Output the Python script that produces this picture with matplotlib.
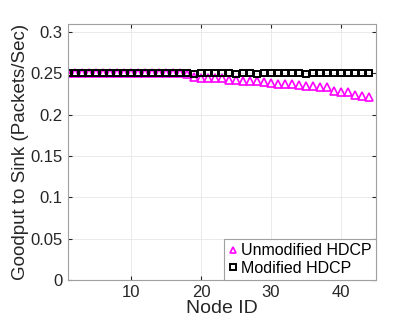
import numpy as np
import matplotlib
matplotlib.use('Agg')
import matplotlib.pyplot as plt

plt.rcParams['font.family'] = ['Liberation Sans', 'DejaVu Sans']

node_id = list(range(1, 45))
unmodified = [0.2505] * 17 + [
    0.249, 0.246, 0.245, 0.245, 0.245, 0.244,
    0.242, 0.242, 0.241, 0.241, 0.241, 0.240,
    0.238, 0.237, 0.237, 0.237, 0.236, 0.235, 0.235,
    0.233, 0.233, 0.229, 0.228, 0.227,
    0.224, 0.223, 0.221]
modified = [0.250] * 17 + [
    0.250, 0.249, 0.250, 0.250, 0.251, 0.251,
    0.250, 0.249, 0.251, 0.251, 0.249, 0.250,
    0.250, 0.251, 0.250, 0.250, 0.251, 0.249, 0.250,
    0.250, 0.250, 0.250, 0.251, 0.250,
    0.251, 0.250, 0.250]
yticks = [0, 0.05, 0.1, 0.15, 0.2, 0.25, 0.3]
ytick_labels = ['0', '0.05', '0.1', '0.15', '0.2', '0.25', '0.3']

fig = plt.figure(figsize=(4.15, 3.32), dpi=100)
ax = fig.add_axes([0.164, 0.157, 0.742, 0.771])

ax.plot(node_id, unmodified, linestyle='none', marker='^', markersize=6,
        markerfacecolor='none', markeredgecolor='#ff00ff', markeredgewidth=1.2,
        label='Unmodified HDCP')
ax.plot(node_id, modified, linestyle='none', marker='s', markersize=5,
        markerfacecolor='none', markeredgecolor='black', markeredgewidth=1.4,
        label='Modified HDCP')

ax.set_xlim(1, 45)
ax.set_ylim(0, 0.31)
ax.set_xticks([10, 20, 30, 40])
ax.set_yticks(yticks)
ax.set_yticklabels(ytick_labels)
ax.grid(True, color='#e6e6e6', linewidth=0.6)
ax.set_axisbelow(True)
ax.tick_params(direction='in', length=3, labelsize=12, colors='#262626',
               top=True, right=True, pad=4)
for s in ax.spines.values():
    s.set_color('#a0a0a0')
    s.set_linewidth(0.8)

ax.set_xlabel('Node ID', fontsize=14, color='#262626', labelpad=0)
ax.set_ylabel('Goodput to Sink (Packets/Sec)', fontsize=13.5, color='#262626', labelpad=1)

leg = ax.legend(loc='lower right', borderaxespad=0, fontsize=11.5,
                handlelength=0.7, handletextpad=0.15, borderpad=0.25,
                labelspacing=0.15, fancybox=False, framealpha=1)
leg.get_frame().set_edgecolor('#a0a0a0')
leg.get_frame().set_linewidth(0.8)
for h in leg.legend_handles:
    h.set_markersize(4)

fig.savefig('out.png', dpi=100)
